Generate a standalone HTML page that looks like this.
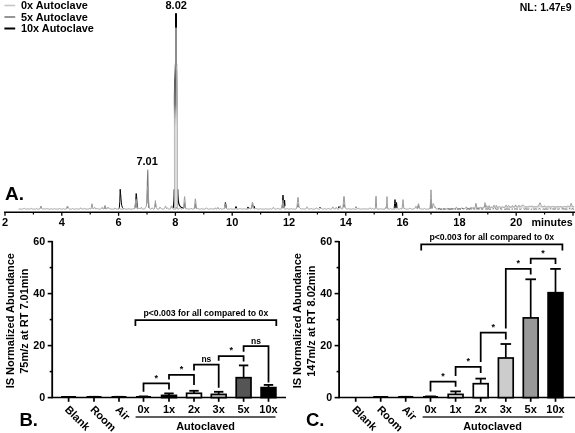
<!DOCTYPE html>
<html><head><meta charset="utf-8"><title>Figure</title>
<style>html,body{margin:0;padding:0;background:#fff}svg{display:block;will-change:transform;transform:translateZ(0)}text{font-family:"Liberation Sans",sans-serif;font-weight:bold;fill:#000}</style></head>
<body>
<svg width="575" height="433" viewBox="0 0 575 433">
<rect width="575" height="433" fill="#fff"/>
<line x1="4.4" y1="5.5" x2="15.2" y2="5.5" stroke="#c6c6c6" stroke-width="1.6"/>
<text x="21" y="9.3" font-size="10.9">0x Autoclave</text>
<line x1="4.4" y1="17.0" x2="15.2" y2="17.0" stroke="#7a7a7a" stroke-width="1.6"/>
<text x="21" y="20.8" font-size="10.9">5x Autoclave</text>
<line x1="4.4" y1="28.5" x2="15.2" y2="28.5" stroke="#000" stroke-width="2.0"/>
<text x="21" y="32.3" font-size="10.9">10x Autoclave</text>
<text x="571.5" y="11.0" font-size="10.5" text-anchor="end">NL: 1.47<tspan font-size="7.6">E</tspan>9</text>
<text x="176.2" y="9.3" font-size="11" text-anchor="middle">8.02</text>
<text x="147.1" y="165.0" font-size="11" text-anchor="middle">7.01</text>
<text x="5" y="200" font-size="19">A.</text>
<path d="M119.0,208.4 L119.4,207.2 L119.8,201.4 L120.2,189.3 L120.6,193.7 L121.0,198.7 L121.4,202.9 L121.8,205.6 L122.2,207.0 L122.6,207.7 L123.0,208.2 M135.4,206.4 L135.8,199.0 L136.2,193.5 L136.6,196.6 L137.0,202.7 L137.4,207.0 M225.0,206.2 L225.4,202.5 L225.8,204.1 L226.2,207.8 M235.4,208.0 L235.8,206.6 L236.2,206.6 L236.6,208.0 M247.4,208.1 L247.8,207.1 L248.2,207.1 L248.6,208.1 M253.4,207.9 L253.8,206.2 L254.2,206.2 L254.6,207.9 M282.2,207.5 L282.6,201.0 L283.0,195.1 L283.4,201.0 L283.8,207.4 L284.2,205.6 L284.6,200.1 L285.0,205.7 M319.8,207.5 L320.2,207.5 M338.6,207.6 L339.0,206.5 L339.4,207.6 M355.8,207.2 L356.2,207.2 M394.2,208.0 L394.6,203.6 L395.0,199.6 L395.4,203.6 L395.8,207.7 L396.2,205.0 L396.6,202.5 L397.0,207.6" fill="none" stroke="#000" stroke-width="1.0" stroke-linejoin="round" stroke-linecap="round"/>
<path d="M40.6,207.7 L41.0,206.9 L41.4,207.7 M67.0,208.0 L67.4,207.0 L67.8,207.4 M104.2,208.4 L104.6,207.0 L105.0,206.1 L105.4,207.0 L105.8,208.4 M135.0,207.9 L135.4,204.1 L135.8,199.0 L136.2,199.0 L136.6,204.1 L137.0,207.9 M147.0,203.1 L147.4,180.5 L147.8,170.1 L148.2,193.8 L148.6,207.4 M155.0,206.2 L155.4,204.1 L155.8,206.2 M183.8,208.0 L184.2,205.2 L184.6,203.1 L185.0,205.2 L185.4,208.0 M194.6,208.2 L195.0,205.9 L195.4,204.1 L195.8,205.9 L196.2,208.2 M251.4,208.2 L251.8,206.7 L252.2,205.1 L252.6,204.7 L253.0,205.9 L253.4,207.5 M282.2,207.6 L282.6,204.9 L283.0,203.1 L283.4,204.9 L283.8,207.6 M297.4,206.8 L297.8,204.5 L298.2,204.5 L298.6,206.8 M343.4,206.8 L343.8,204.5 L344.2,204.5 L344.6,206.8 M417.8,207.9 L418.2,206.2 L418.6,205.7 L419.0,207.1 M430.2,208.3 L430.6,205.1 L431.0,202.1 L431.4,205.1 L431.8,208.3 M484.6,206.5 L485.0,205.4 L485.4,206.4" fill="none" stroke="#7a7a7a" stroke-width="1.1" stroke-linejoin="round" stroke-linecap="round"/>
<defs><linearGradient id="pk" x1="0" y1="0" x2="0" y2="1"><stop offset="0" stop-color="#8c8c8c"/><stop offset="0.3" stop-color="#5a5a5a"/><stop offset="0.65" stop-color="#7a7a7a"/><stop offset="1" stop-color="#b4b4b4" stop-opacity="0"/></linearGradient></defs>
<path d="M173.2,207.6 Q174.1,204 174.25,189.5 M177.75,189.5 Q177.9,203 179.5,205.5 T183.5,208" fill="none" stroke="#000" stroke-width="1.2" stroke-linecap="round"/>
<path d="M175.3,64 L176.9,64 L177.3,80 L177.5,100 L177.5,207.8 L174.5,207.8 L174.4,100 L174.6,80 Z" fill="#dcdcdc" stroke="#a8a8a8" stroke-width="0.75"/>
<path d="M175,62 L176.6,62 L176.2,80 L175.8,128 L174.0,128 L173.8,100 L174.1,80 Z" fill="url(#pk)"/>
<defs><linearGradient id="pk2" x1="0" y1="0" x2="0" y2="1"><stop offset="0" stop-color="#a0a0a0"/><stop offset="0.6" stop-color="#a8a8a8"/><stop offset="1" stop-color="#c8c8c8" stop-opacity="0"/></linearGradient></defs>
<path d="M176,70 L177.1,70 L177.6,100 L177.7,128 L176,128 Z" fill="url(#pk2)"/>
<rect x="175" y="27.5" width="2" height="38" fill="#8c8c8c"/>
<rect x="175" y="13.2" width="2" height="14.5" fill="#000"/>
<path d="M19.0,209.1 L19.4,209.1 L19.8,209.1 L20.2,209.1 L20.6,209.1 L21.0,209.1 L21.4,209.1 L21.8,209.1 L22.2,209.1 L22.6,209.1 L23.0,208.9 L23.4,208.6 L23.8,208.3 L24.2,208.3 L24.6,208.6 L25.0,208.9 L25.4,209.1 L25.8,209.1 L26.2,209.1 L26.6,209.1 L27.0,209.0 L27.4,208.7 L27.8,208.8 L28.2,209.1 L28.6,209.1 L29.0,209.1 L29.4,209.1 L29.8,209.1 L30.2,209.1 L30.6,209.0 L31.0,208.6 L31.4,208.2 L31.8,208.4 L32.2,208.9 L32.6,209.1 L33.0,209.1 L33.4,209.1 L33.8,209.1 L34.2,209.1 L34.6,209.1 L35.0,209.1 L35.4,209.1 L35.8,209.1 L36.2,208.9 L36.6,208.5 L37.0,208.8 L37.4,209.1 L37.8,209.1 L38.2,209.1 L38.6,209.1 L39.0,209.1 L39.4,209.1 L39.8,208.9 L40.2,208.2 L40.6,206.9 L41.0,206.0 L41.4,207.2 L41.8,208.6 L42.2,209.0 L42.6,209.1 L43.0,209.1 L43.4,209.0 L43.8,208.9 L44.2,208.7 L44.6,208.8 L45.0,208.9 L45.4,209.0 L45.8,209.1 L46.2,208.9 L46.6,208.6 L47.0,208.5 L47.4,208.7 L47.8,209.0 L48.2,209.1 L48.6,209.1 L49.0,209.1 L49.4,209.1 L49.8,209.1 L50.2,209.0 L50.6,208.9 L51.0,208.7 L51.4,208.8 L51.8,209.0 L52.2,209.1 L52.6,209.1 L53.0,209.1 L53.4,209.1 L53.8,209.1 L54.2,208.8 L54.6,208.5 L55.0,208.9 L55.4,209.1 L55.8,209.1 L56.2,209.1 L56.6,209.1 L57.0,209.1 L57.4,209.1 L57.8,209.1 L58.2,209.1 L58.6,209.1 L59.0,208.8 L59.4,208.3 L59.8,208.3 L60.2,208.8 L60.6,209.1 L61.0,209.1 L61.4,209.1 L61.8,209.1 L62.2,209.1 L62.6,209.1 L63.0,209.0 L63.4,208.7 L63.8,208.7 L64.2,209.0 L64.6,209.1 L65.0,209.1 L65.4,209.1 L65.8,209.1 L66.2,209.1 L66.6,208.7 L67.0,207.5 L67.4,206.0 L67.8,206.5 L68.2,207.8 L68.6,208.4 L69.0,208.9 L69.4,209.1 L69.8,209.1 L70.2,209.1 L70.6,209.1 L71.0,209.1 L71.4,209.1 L71.8,209.0 L72.2,208.7 L72.6,208.5 L73.0,208.8 L73.4,209.0 L73.8,209.1 L74.2,209.1 L74.6,209.1 L75.0,209.1 L75.4,209.1 L75.8,209.0 L76.2,208.8 L76.6,208.7 L77.0,208.8 L77.4,209.0 L77.8,209.1 L78.2,209.1 L78.6,209.1 L79.0,209.1 L79.4,209.1 L79.8,209.0 L80.2,208.5 L80.6,207.9 L81.0,207.9 L81.4,208.5 L81.8,208.9 L82.2,209.1 L82.6,209.1 L83.0,209.1 L83.4,209.1 L83.8,208.8 L84.2,208.3 L84.6,208.3 L85.0,208.8 L85.4,209.0 L85.8,209.1 L86.2,209.1 L86.6,209.1 L87.0,209.1 L87.4,209.1 L87.8,209.1 L88.2,209.1 L88.6,209.1 L89.0,208.9 L89.4,208.4 L89.8,208.3 L90.2,208.8 L90.6,209.1 L91.0,208.9 L91.4,207.4 L91.8,203.9 L92.2,203.9 L92.6,207.4 L93.0,208.9 L93.4,208.9 L93.8,208.4 L94.2,207.6 L94.6,207.3 L95.0,208.0 L95.4,208.7 L95.8,209.0 L96.2,208.9 L96.6,208.5 L97.0,208.2 L97.4,208.6 L97.8,209.0 L98.2,209.1 L98.6,209.1 L99.0,209.1 L99.4,209.1 L99.8,209.1 L100.2,209.1 L100.6,209.1 L101.0,209.0 L101.4,208.6 L101.8,207.6 L102.2,207.4 L102.6,208.4 L103.0,209.0 L103.4,209.1 L103.8,209.0 L104.2,208.5 L104.6,206.8 L105.0,205.5 L105.4,206.8 L105.8,208.3 L106.2,208.6 L106.6,208.8 L107.0,208.9 L107.4,208.2 L107.8,207.3 L108.2,207.3 L108.6,208.2 L109.0,208.8 L109.4,208.7 L109.8,208.4 L110.2,208.7 L110.6,209.0 L111.0,209.1 L111.4,209.1 L111.8,209.1 L112.2,209.1 L112.6,209.1 L113.0,209.1 L113.4,209.1 L113.8,209.1 L114.2,209.1 L114.6,208.8 L115.0,207.9 L115.4,208.3 L115.8,209.0 L116.2,209.1 L116.6,209.1 L117.0,209.1 L117.4,209.1 L117.8,209.1 L118.2,209.1 L118.6,209.0 L119.0,208.7 L119.4,208.4 L119.8,208.5 L120.2,208.9 L120.6,209.1 L121.0,209.1 L121.4,209.1 L121.8,209.1 L122.2,209.1 L122.6,209.1 L123.0,209.1 L123.4,209.1 L123.8,208.8 L124.2,208.4 L124.6,208.6 L125.0,209.0 L125.4,209.1 L125.8,209.1 L126.2,209.1 L126.6,209.1 L127.0,209.1 L127.4,209.1 L127.8,209.1 L128.2,208.9 L128.6,208.7 L129.0,208.6 L129.4,208.9 L129.8,209.1 L130.2,209.1 L130.6,209.1 L131.0,209.1 L131.4,209.1 L131.8,209.1 L132.2,209.1 L132.6,209.0 L133.0,208.9 L133.4,208.7 L133.8,208.7 L134.2,208.8 L134.6,208.7 L135.0,207.5 L135.4,203.9 L135.8,199.8 L136.2,199.8 L136.6,203.9 L137.0,207.5 L137.4,208.8 L137.8,209.0 L138.2,208.7 L138.6,208.1 L139.0,207.8 L139.4,208.2 L139.8,208.8 L140.2,209.0 L140.6,208.6 L141.0,207.8 L141.4,207.3 L141.8,207.9 L142.2,208.7 L142.6,209.0 L143.0,209.1 L143.4,209.1 L143.8,209.1 L144.2,209.1 L144.6,208.9 L145.0,208.4 L145.4,207.6 L145.8,207.1 L146.2,206.7 L146.6,203.9 L147.0,196.9 L147.4,188.6 L147.8,186.2 L148.2,191.9 L148.6,199.9 L149.0,205.3 L149.4,207.8 L149.8,208.7 L150.2,209.0 L150.6,209.1 L151.0,209.1 L151.4,208.9 L151.8,208.3 L152.2,207.8 L152.6,208.3 L153.0,208.9 L153.4,209.1 L153.8,209.1 L154.2,209.0 L154.6,208.2 L155.0,204.2 L155.4,200.6 L155.8,204.0 L156.2,207.2 L156.6,208.0 L157.0,208.9 L157.4,209.1 L157.8,209.1 L158.2,209.1 L158.6,209.1 L159.0,209.0 L159.4,208.5 L159.8,207.3 L160.2,207.3 L160.6,208.2 L161.0,208.5 L161.4,208.6 L161.8,208.8 L162.2,209.0 L162.6,209.1 L163.0,209.1 L163.4,209.1 L163.8,209.0 L164.2,208.7 L164.6,208.2 L165.0,207.5 L165.4,206.2 L165.8,206.4 L166.2,207.9 L166.6,208.7 L167.0,208.2 L167.4,207.8 L167.8,208.2 L168.2,208.8 L168.6,209.1 L169.0,209.1 L169.4,209.1 L169.8,209.1 L170.2,209.0 L170.6,208.5 L171.0,207.0 L171.4,205.8 L171.8,206.8 L172.2,208.0 L172.6,208.3 L173.0,208.7 L173.4,209.0 L173.8,209.1 L174.2,209.1 L174.6,209.1 L175.0,209.1 L175.4,209.1 L175.8,208.8 L176.2,207.9 L176.6,207.3 L177.0,208.1 L177.4,208.9 L177.8,209.1 L178.2,209.1 L178.6,209.0 L179.0,208.8 L179.4,208.3 L179.8,207.8 L180.2,207.9 L180.6,208.5 L181.0,208.9 L181.4,209.1 L181.8,209.1 L182.2,208.8 L182.6,208.5 L183.0,208.7 L183.4,208.5 L183.8,206.0 L184.2,200.3 L184.6,196.6 L185.0,200.3 L185.4,206.0 L185.8,208.6 L186.2,209.0 L186.6,208.8 L187.0,208.7 L187.4,208.8 L187.8,209.0 L188.2,209.1 L188.6,209.1 L189.0,209.1 L189.4,209.1 L189.8,209.1 L190.2,209.1 L190.6,208.8 L191.0,208.3 L191.4,208.4 L191.8,208.9 L192.2,209.1 L192.6,209.1 L193.0,209.0 L193.4,208.8 L193.8,208.6 L194.2,208.3 L194.6,206.5 L195.0,201.9 L195.4,198.8 L195.8,201.9 L196.2,206.6 L196.6,208.6 L197.0,209.0 L197.4,208.7 L197.8,208.5 L198.2,208.6 L198.6,208.9 L199.0,209.1 L199.4,209.1 L199.8,209.1 L200.2,209.1 L200.6,209.1 L201.0,209.0 L201.4,208.7 L201.8,208.6 L202.2,208.8 L202.6,209.0 L203.0,209.1 L203.4,209.1 L203.8,209.1 L204.2,209.1 L204.6,209.1 L205.0,209.1 L205.4,208.9 L205.8,208.4 L206.2,207.9 L206.6,207.9 L207.0,208.3 L207.4,208.8 L207.8,209.0 L208.2,209.1 L208.6,209.1 L209.0,209.1 L209.4,209.1 L209.8,209.1 L210.2,209.0 L210.6,208.8 L211.0,208.5 L211.4,208.5 L211.8,208.8 L212.2,209.0 L212.6,209.1 L213.0,209.1 L213.4,209.1 L213.8,209.1 L214.2,209.1 L214.6,208.8 L215.0,208.0 L215.4,207.9 L215.8,208.6 L216.2,209.0 L216.6,209.1 L217.0,208.9 L217.4,208.0 L217.8,207.3 L218.2,208.0 L218.6,208.9 L219.0,209.1 L219.4,209.1 L219.8,209.0 L220.2,208.7 L220.6,208.5 L221.0,208.7 L221.4,209.0 L221.8,209.1 L222.2,209.1 L222.6,209.0 L223.0,208.7 L223.4,208.7 L223.8,209.0 L224.2,209.0 L224.6,208.1 L225.0,205.8 L225.4,203.6 L225.8,204.6 L226.2,207.3 L226.6,208.7 L227.0,209.1 L227.4,209.1 L227.8,209.1 L228.2,209.1 L228.6,209.1 L229.0,209.1 L229.4,209.1 L229.8,209.1 L230.2,209.0 L230.6,208.6 L231.0,208.8 L231.4,209.1 L231.8,209.1 L232.2,209.1 L232.6,209.1 L233.0,209.1 L233.4,209.1 L233.8,209.1 L234.2,209.1 L234.6,209.1 L235.0,209.0 L235.4,208.8 L235.8,208.6 L236.2,208.8 L236.6,209.0 L237.0,209.1 L237.4,209.1 L237.8,209.1 L238.2,209.1 L238.6,209.1 L239.0,209.0 L239.4,208.8 L239.8,208.4 L240.2,208.2 L240.6,208.6 L241.0,209.0 L241.4,209.1 L241.8,209.1 L242.2,209.1 L242.6,209.1 L243.0,209.0 L243.4,208.8 L243.8,208.7 L244.2,208.8 L244.6,208.9 L245.0,209.1 L245.4,209.1 L245.8,209.1 L246.2,209.1 L246.6,209.1 L247.0,209.1 L247.4,209.1 L247.8,209.1 L248.2,209.1 L248.6,208.8 L249.0,208.2 L249.4,207.8 L249.8,208.4 L250.2,208.9 L250.6,209.0 L251.0,208.8 L251.4,207.8 L251.8,205.6 L252.2,203.0 L252.6,202.1 L253.0,204.2 L253.4,206.8 L253.8,208.4 L254.2,208.9 L254.6,209.1 L255.0,209.0 L255.4,208.7 L255.8,208.2 L256.2,208.4 L256.6,208.9 L257.0,209.1 L257.4,209.1 L257.8,209.1 L258.2,209.1 L258.6,209.1 L259.0,209.1 L259.4,209.1 L259.8,209.0 L260.2,208.7 L260.6,208.7 L261.0,209.0 L261.4,209.1 L261.8,209.1 L262.2,209.1 L262.6,209.1 L263.0,209.1 L263.4,209.1 L263.8,209.1 L264.2,209.1 L264.6,209.1 L265.0,209.0 L265.4,208.7 L265.8,208.6 L266.2,208.9 L266.6,209.1 L267.0,209.1 L267.4,209.1 L267.8,209.1 L268.2,209.1 L268.6,209.1 L269.0,209.1 L269.4,209.0 L269.8,208.8 L270.2,208.7 L270.6,208.8 L271.0,209.0 L271.4,209.1 L271.8,209.1 L272.2,208.9 L272.6,208.5 L273.0,207.7 L273.4,207.3 L273.8,207.8 L274.2,208.5 L274.6,209.0 L275.0,209.1 L275.4,209.1 L275.8,209.1 L276.2,209.1 L276.6,209.1 L277.0,209.0 L277.4,208.6 L277.8,208.2 L278.2,208.4 L278.6,208.9 L279.0,209.1 L279.4,209.1 L279.8,209.1 L280.2,209.1 L280.6,209.1 L281.0,209.1 L281.4,209.1 L281.8,208.7 L282.2,206.9 L282.6,202.9 L283.0,200.2 L283.4,202.7 L283.8,206.8 L284.2,208.7 L284.6,209.1 L285.0,209.1 L285.4,209.1 L285.8,209.1 L286.2,209.0 L286.6,208.7 L287.0,208.4 L287.4,208.6 L287.8,209.0 L288.2,209.1 L288.6,209.1 L289.0,209.1 L289.4,209.1 L289.8,209.1 L290.2,209.1 L290.6,208.9 L291.0,208.7 L291.4,208.6 L291.8,208.8 L292.2,209.0 L292.6,209.1 L293.0,209.1 L293.4,209.1 L293.8,209.1 L294.2,209.1 L294.6,209.1 L295.0,209.1 L295.4,209.1 L295.8,209.1 L296.2,208.9 L296.6,208.1 L297.0,206.5 L297.4,202.5 L297.8,197.5 L298.2,197.5 L298.6,202.5 L299.0,206.7 L299.4,207.8 L299.8,207.8 L300.2,208.2 L300.6,208.8 L301.0,209.0 L301.4,209.1 L301.8,209.1 L302.2,208.9 L302.6,208.6 L303.0,208.7 L303.4,209.0 L303.8,209.1 L304.2,209.1 L304.6,209.1 L305.0,209.1 L305.4,209.1 L305.8,209.0 L306.2,208.6 L306.6,207.6 L307.0,206.8 L307.4,207.3 L307.8,208.3 L308.2,208.9 L308.6,209.1 L309.0,209.1 L309.4,209.1 L309.8,209.1 L310.2,209.0 L310.6,208.7 L311.0,208.5 L311.4,208.6 L311.8,208.9 L312.2,209.1 L312.6,209.1 L313.0,209.1 L313.4,209.1 L313.8,209.1 L314.2,209.1 L314.6,209.1 L315.0,209.1 L315.4,208.9 L315.8,208.5 L316.2,207.9 L316.6,207.9 L317.0,208.4 L317.4,208.9 L317.8,209.1 L318.2,209.1 L318.6,209.1 L319.0,209.1 L319.4,209.1 L319.8,209.0 L320.2,208.8 L320.6,208.4 L321.0,208.2 L321.4,208.4 L321.8,208.7 L322.2,209.0 L322.6,209.1 L323.0,209.1 L323.4,209.1 L323.8,209.0 L324.2,208.7 L324.6,208.6 L325.0,209.0 L325.4,209.1 L325.8,209.1 L326.2,209.1 L326.6,209.1 L327.0,209.1 L327.4,209.0 L327.8,208.6 L328.2,208.2 L328.6,208.6 L329.0,209.0 L329.4,209.1 L329.8,209.1 L330.2,209.1 L330.6,209.1 L331.0,209.1 L331.4,209.0 L331.8,208.8 L332.2,208.2 L332.6,207.2 L333.0,206.8 L333.4,207.6 L333.8,208.6 L334.2,209.0 L334.6,209.1 L335.0,209.1 L335.4,208.9 L335.8,208.2 L336.2,207.3 L336.6,207.9 L337.0,208.8 L337.4,209.1 L337.8,209.1 L338.2,209.1 L338.6,209.1 L339.0,208.8 L339.4,207.7 L339.8,206.2 L340.2,205.8 L340.6,207.0 L341.0,208.3 L341.4,208.9 L341.8,209.1 L342.2,209.1 L342.6,208.7 L343.0,206.9 L343.4,202.1 L343.8,196.5 L344.2,196.5 L344.6,202.0 L345.0,206.7 L345.4,208.2 L345.8,208.4 L346.2,208.6 L346.6,208.9 L347.0,209.1 L347.4,209.1 L347.8,209.0 L348.2,208.7 L348.6,208.5 L349.0,208.7 L349.4,209.0 L349.8,209.1 L350.2,209.1 L350.6,209.1 L351.0,209.1 L351.4,209.1 L351.8,209.1 L352.2,208.9 L352.6,208.8 L353.0,208.7 L353.4,208.8 L353.8,209.0 L354.2,209.1 L354.6,209.1 L355.0,209.1 L355.4,209.1 L355.8,209.1 L356.2,209.1 L356.6,209.1 L357.0,209.1 L357.4,209.0 L357.8,208.5 L358.2,207.9 L358.6,208.1 L359.0,208.7 L359.4,209.1 L359.8,209.1 L360.2,209.1 L360.6,209.1 L361.0,209.1 L361.4,209.1 L361.8,209.1 L362.2,209.0 L362.6,208.8 L363.0,208.7 L363.4,208.8 L363.8,209.0 L364.2,209.1 L364.6,209.1 L365.0,209.1 L365.4,208.8 L365.8,208.5 L366.2,208.9 L366.6,209.1 L367.0,209.1 L367.4,209.1 L367.8,209.1 L368.2,209.1 L368.6,209.0 L369.0,208.8 L369.4,208.3 L369.8,207.8 L370.2,208.0 L370.6,208.6 L371.0,209.0 L371.4,209.1 L371.8,208.9 L372.2,208.6 L372.6,208.4 L373.0,208.7 L373.4,209.0 L373.8,209.1 L374.2,209.1 L374.6,209.1 L375.0,209.1 L375.4,207.9 L375.8,196.7 L376.2,196.2 L376.6,207.3 L377.0,209.0 L377.4,209.1 L377.8,209.1 L378.2,209.1 L378.6,209.1 L379.0,209.1 L379.4,209.1 L379.8,209.0 L380.2,208.7 L380.6,208.8 L381.0,209.1 L381.4,209.1 L381.8,209.1 L382.2,209.1 L382.6,209.1 L383.0,209.1 L383.4,209.1 L383.8,209.1 L384.2,209.1 L384.6,209.1 L385.0,209.0 L385.4,208.1 L385.8,207.3 L386.2,208.3 L386.6,205.1 L387.0,196.6 L387.4,205.2 L387.8,209.0 L388.2,209.1 L388.6,209.1 L389.0,209.1 L389.4,209.1 L389.8,208.9 L390.2,208.6 L390.6,208.6 L391.0,208.9 L391.4,209.1 L391.8,209.1 L392.2,209.1 L392.6,209.1 L393.0,209.1 L393.4,209.1 L393.8,209.1 L394.2,209.1 L394.6,208.9 L395.0,208.6 L395.4,208.4 L395.8,208.5 L396.2,208.8 L396.6,209.0 L397.0,209.0 L397.4,208.8 L397.8,208.5 L398.2,208.8 L398.6,209.0 L399.0,209.1 L399.4,209.1 L399.8,209.1 L400.2,208.9 L400.6,208.7 L401.0,208.7 L401.4,209.0 L401.8,209.0 L402.2,208.0 L402.6,203.6 L403.0,199.6 L403.4,203.6 L403.8,208.0 L404.2,208.9 L404.6,208.5 L405.0,208.5 L405.4,209.0 L405.8,209.1 L406.2,209.1 L406.6,209.1 L407.0,209.1 L407.4,209.1 L407.8,209.1 L408.2,209.1 L408.6,209.1 L409.0,208.9 L409.4,208.6 L409.8,208.3 L410.2,208.3 L410.6,208.6 L411.0,208.9 L411.4,209.1 L411.8,209.1 L412.2,209.1 L412.6,209.1 L413.0,209.1 L413.4,209.0 L413.8,208.7 L414.2,208.4 L414.6,208.4 L415.0,208.4 L415.4,207.6 L415.8,206.3 L416.2,206.4 L416.6,207.7 L417.0,208.7 L417.4,208.7 L417.8,207.2 L418.2,204.4 L418.6,203.7 L419.0,206.3 L419.4,208.5 L419.8,209.0 L420.2,209.0 L420.6,208.6 L421.0,208.8 L421.4,209.1 L421.8,209.1 L422.2,209.1 L422.6,209.1 L423.0,209.1 L423.4,209.0 L423.8,208.8 L424.2,208.5 L424.6,208.6 L425.0,208.9 L425.4,209.1 L425.8,209.1 L426.2,209.1 L426.6,209.1 L427.0,209.1 L427.4,209.1 L427.8,209.1 L428.2,209.1 L428.6,208.9 L429.0,208.5 L429.4,208.7 L429.8,209.0 L430.2,207.5 L430.6,198.8 L431.0,189.8 L431.4,198.8 L431.8,207.4 L432.2,208.3 L432.6,205.9 L433.0,203.6 L433.4,203.7 L433.8,204.7 L434.2,206.6 L434.6,207.5 L435.0,206.9 L435.4,206.9 L435.8,208.1 L436.2,208.9 L436.6,209.1 L437.0,209.1 L437.4,209.1 L437.8,209.1 L438.2,209.0 L438.6,208.7 L439.0,208.3 L439.4,208.2 L439.8,208.6 L440.2,208.9 L440.6,209.1 L441.0,209.1 L441.4,209.1 L441.8,209.1 L442.2,209.1 L442.6,209.1 L443.0,209.1 L443.4,209.1 L443.8,209.0 L444.2,208.6 L444.6,208.7 L445.0,209.0 L445.4,209.1 L445.8,209.1 L446.2,209.1 L446.6,209.0 L447.0,208.8 L447.4,208.2 L447.8,208.4 L448.2,208.9 L448.6,209.0 L449.0,209.0 L449.4,209.0 L449.8,208.9 L450.2,208.9 L450.6,208.7 L451.0,208.4 L451.4,208.4 L451.8,208.6 L452.2,208.8 L452.6,208.9 L453.0,208.9 L453.4,208.8 L453.8,208.8 L454.2,208.8 L454.6,208.8 L455.0,208.8 L455.4,208.7 L455.8,208.3 L456.2,207.3 L456.6,207.3 L457.0,208.2 L457.4,208.7 L457.8,208.7 L458.2,208.7 L458.6,208.7 L459.0,208.7 L459.4,208.7 L459.8,208.7 L460.2,208.6 L460.6,208.6 L461.0,208.5 L461.4,208.2 L461.8,207.9 L462.2,208.1 L462.6,208.4 L463.0,208.5 L463.4,208.5 L463.8,208.5 L464.2,208.5 L464.6,208.5 L465.0,208.5 L465.4,208.3 L465.8,207.6 L466.2,206.8 L466.6,207.1 L467.0,208.0 L467.4,208.4 L467.8,208.4 L468.2,208.4 L468.6,208.4 L469.0,208.4 L469.4,208.4 L469.8,208.3 L470.2,208.2 L470.6,207.9 L471.0,207.7 L471.4,207.7 L471.8,208.0 L472.2,208.2 L472.6,208.2 L473.0,208.3 L473.4,208.2 L473.8,208.2 L474.2,208.2 L474.6,208.0 L475.0,207.6 L475.4,206.3 L475.8,203.3 L476.2,203.7 L476.6,207.0 L477.0,208.0 L477.4,208.1 L477.8,208.1 L478.2,208.1 L478.6,208.1 L479.0,208.1 L479.4,208.0 L479.8,207.9 L480.2,207.7 L480.6,207.3 L481.0,207.3 L481.4,207.6 L481.8,207.9 L482.2,208.0 L482.6,207.9 L483.0,207.7 L483.4,207.4 L483.8,207.5 L484.2,207.2 L484.6,204.9 L485.0,202.7 L485.4,204.9 L485.8,207.2 L486.2,207.0 L486.6,205.6 L487.0,206.1 L487.4,207.5 L487.8,207.8 L488.2,207.7 L488.6,207.0 L489.0,205.6 L489.4,205.9 L489.8,207.2 L490.2,207.7 L490.6,207.7 L491.0,207.7 L491.4,207.2 L491.8,206.8 L492.2,207.3 L492.6,207.6 L493.0,207.4 L493.4,206.5 L493.8,205.3 L494.2,205.3 L494.6,206.5 L495.0,207.3 L495.4,207.4 L495.8,206.6 L496.2,205.3 L496.6,205.7 L497.0,207.0 L497.4,207.5 L497.8,207.5 L498.2,207.4 L498.6,207.2 L499.0,206.8 L499.4,206.7 L499.8,206.9 L500.2,207.2 L500.6,207.4 L501.0,207.4 L501.4,207.4 L501.8,207.1 L502.2,206.9 L502.6,207.0 L503.0,207.3 L503.4,207.3 L503.8,207.3 L504.2,207.3 L504.6,207.3 L505.0,207.0 L505.4,206.3 L505.8,205.3 L506.2,205.0 L506.6,205.8 L507.0,206.7 L507.4,207.0 L507.8,206.9 L508.2,206.3 L508.6,205.6 L509.0,205.6 L509.4,206.2 L509.8,206.8 L510.2,207.1 L510.6,207.1 L511.0,207.1 L511.4,207.1 L511.8,206.6 L512.2,205.6 L512.6,205.8 L513.0,206.8 L513.4,207.0 L513.8,207.0 L514.2,207.0 L514.6,206.9 L515.0,206.3 L515.4,205.0 L515.8,204.9 L516.2,206.2 L516.6,206.9 L517.0,206.9 L517.4,206.9 L517.8,206.9 L518.2,206.5 L518.6,205.7 L519.0,205.2 L519.4,206.0 L519.8,206.7 L520.2,206.8 L520.6,206.4 L521.0,205.8 L521.4,205.7 L521.8,205.9 L522.2,205.6 L522.6,205.0 L523.0,204.7 L523.4,205.0 L523.8,205.6 L524.2,205.9 L524.6,206.3 L525.0,206.8 L525.4,206.9 L525.8,206.9 L526.2,206.9 L526.6,206.9 L527.0,206.9 L527.4,206.9 L527.8,206.9 L528.2,206.9 L528.6,206.7 L529.0,206.4 L529.4,206.2 L529.8,206.2 L530.2,206.5 L530.6,206.7 L531.0,206.9 L531.4,206.7 L531.8,206.1 L532.2,205.7 L532.6,206.4 L533.0,206.8 L533.4,206.9 L533.8,206.9 L534.2,206.9 L534.6,206.9 L535.0,206.9 L535.4,206.9 L535.8,206.9 L536.2,206.9 L536.6,206.8 L537.0,206.4 L537.4,206.1 L537.8,206.4 L538.2,206.4 L538.6,206.0 L539.0,205.1 L539.4,203.9 L539.8,202.8 L540.2,202.9 L540.6,204.1 L541.0,205.2 L541.4,206.0 L541.8,206.5 L542.2,206.7 L542.6,206.8 L543.0,206.9 L543.4,206.8 L543.8,206.5 L544.2,205.8 L544.6,205.9 L545.0,206.5 L545.4,206.9 L545.8,206.9 L546.2,206.9 L546.6,206.9 L547.0,206.9 L547.4,206.8 L547.8,206.6 L548.2,206.3 L548.6,206.3 L549.0,206.7 L549.4,206.9 L549.8,206.9 L550.2,206.9 L550.6,206.9 L551.0,206.9 L551.4,206.9 L551.8,206.9 L552.2,206.8 L552.6,206.5 L553.0,206.4 L553.4,206.7 L553.8,206.9 L554.2,206.9 L554.6,206.9 L555.0,206.9 L555.4,206.9 L555.8,206.9 L556.2,206.9 L556.6,206.9 L557.0,206.7 L557.4,206.3 L557.8,206.1 L558.2,206.5 L558.6,206.8 L559.0,206.9 L559.4,206.8 L559.8,206.5 L560.2,206.4 L560.6,206.6 L561.0,206.8 L561.4,206.9 L561.8,206.9 L562.2,206.9 L562.6,206.9 L563.0,206.9 L563.4,206.9 L563.8,206.9 L564.2,206.8 L564.6,206.5 L565.0,206.4 L565.4,206.6 L565.8,206.8 L566.2,206.9 L566.6,206.8 L567.0,206.6 L567.4,206.2 L567.8,205.8 L568.2,205.9 L568.6,206.4 L569.0,206.7 L569.4,206.9 L569.8,206.8 L570.2,206.1 L570.6,204.6 L571.0,203.3 L571.4,203.7 L571.8,205.1 L572.2,206.1 L572.6,206.6 L573.0,206.8 L573.4,206.9 L573.8,206.9" fill="none" stroke="#9c9c9c" stroke-width="1.0" stroke-linejoin="round" stroke-linecap="round"/>
<path d="M470.0,207.8 L470.8,207.9 L471.6,207.6 L472.4,208.0 L473.2,207.3 L474.0,207.8 L474.8,208.1 L475.6,207.9 L476.4,207.6 L477.2,207.9 L478.0,207.8 L478.8,208.0 L479.6,207.5 L480.4,207.8 L481.2,207.9 L482.0,207.3 L482.8,207.8 L483.6,207.9 L484.4,207.5 L485.2,207.8 L486.0,207.5 L486.8,207.8 L487.6,207.8 L488.4,207.5 L489.2,207.5 L490.0,207.4 L490.8,207.5 L491.6,207.4 L492.4,207.0 L493.2,207.1 L494.0,207.6 L494.8,207.5 L495.6,207.7 L496.4,207.4 L497.2,207.2 L498.0,207.3 L498.8,206.9 L499.6,206.8 L500.4,206.9 L501.2,207.5 L502.0,207.1 L502.8,207.5 L503.6,207.3 L504.4,207.3 L505.2,207.0 L506.0,207.3 L506.8,207.2 L507.6,207.2 L508.4,207.0 L509.2,207.3 L510.0,207.4 L510.8,207.3 L511.6,207.3 L512.4,207.1 L513.2,207.0 L514.0,207.3 L514.8,206.8 L515.6,206.4 L516.4,207.2 L517.2,207.2 L518.0,207.1 L518.8,207.1 L519.6,207.1 L520.4,206.9 L521.2,207.0 L522.0,207.1 L522.8,207.1 L523.6,207.0 L524.4,207.2 L525.2,207.0 L526.0,207.1 L526.8,207.0 L527.6,206.9 L528.4,207.0 L529.2,207.0 L530.0,206.7 L530.8,206.4 L531.6,206.8 L532.4,207.1 L533.2,207.0 L534.0,206.7 L534.8,206.8 L535.6,206.7 L536.4,206.9 L537.2,207.1 L538.0,206.8 L538.8,207.1 L539.6,206.7 L540.4,206.8 L541.2,206.7 L542.0,207.1 L542.8,206.8 L543.6,206.7 L544.4,207.0 L545.2,206.4 L546.0,207.2 L546.8,207.2 L547.6,206.7 L548.4,207.2 L549.2,207.1 L550.0,207.0 L550.8,206.6 L551.6,207.0 L552.4,206.4 L553.2,207.1 L554.0,207.1 L554.8,206.7 L555.6,207.1 L556.4,206.9 L557.2,207.1 L558.0,207.1 L558.8,207.2 L559.6,206.8 L560.4,207.1 L561.2,207.2 L562.0,206.9 L562.8,207.1 L563.6,207.2 L564.4,206.5 L565.2,206.9 L566.0,206.8 L566.8,207.0 L567.6,207.2 L568.4,206.8 L569.2,207.0 L570.0,206.6 L570.8,207.1 L571.6,206.6 L572.4,207.1 L573.2,206.7 L574.0,206.5" fill="none" stroke="#b4b4b4" stroke-width="0.9"/>
<path d="M438.0,209.1 L438.8,208.7 L439.6,208.9 L440.4,209.2 L441.2,209.1 L442.0,209.1 L442.8,209.1 L443.6,209.0 L444.4,209.1 L445.2,209.0 L446.0,208.9 L446.8,209.1 L447.6,209.1 L448.4,208.9 L449.2,209.2 L450.0,209.1 L450.8,209.2 L451.6,209.1 L452.4,208.9 L453.2,209.1 L454.0,209.0 L454.8,208.8 L455.6,209.1 L456.4,208.9 L457.2,209.2 L458.0,209.2 L458.8,209.1 L459.6,209.0 L460.4,209.2 L461.2,208.9 L462.0,209.1 L462.8,208.4 L463.6,209.2 L464.4,208.8 L465.2,208.8 L466.0,209.1 L466.8,209.2 L467.6,208.9 L468.4,209.0 L469.2,209.2 L470.0,209.0 L470.8,208.9 L471.6,209.0 L472.4,209.2 L473.2,209.1 L474.0,209.0 L474.8,209.0 L475.6,209.0 L476.4,209.0 L477.2,208.9 L478.0,208.7 L478.8,209.1 L479.6,209.0 L480.4,209.2 L481.2,208.9 L482.0,209.1 L482.8,209.1 L483.6,209.1 L484.4,209.0 L485.2,209.1 L486.0,209.0 L486.8,209.0 L487.6,209.1 L488.4,208.8 L489.2,209.2 L490.0,209.2 L490.8,209.1 L491.6,208.8 L492.4,208.9 L493.2,208.7 L494.0,208.9 L494.8,209.2 L495.6,208.7 L496.4,209.2 L497.2,209.1 L498.0,209.0 L498.8,208.9 L499.6,208.8 L500.4,208.7 L501.2,209.0 L502.0,209.1 L502.8,209.1 L503.6,208.8 L504.4,209.1 L505.2,209.2 L506.0,209.2 L506.8,208.9 L507.6,209.0 L508.4,209.0 L509.2,209.2 L510.0,209.1 L510.8,209.0 L511.6,209.1 L512.4,209.1 L513.2,209.1 L514.0,209.0 L514.8,209.0 L515.6,208.9 L516.4,209.0 L517.2,209.1 L518.0,209.0 L518.8,209.2 L519.6,209.0 L520.4,209.2 L521.2,208.8 L522.0,209.0 L522.8,209.1 L523.6,208.8 L524.4,209.2 L525.2,208.9 L526.0,209.0 L526.8,208.9 L527.6,209.1 L528.4,209.1 L529.2,208.9 L530.0,209.0 L530.8,209.1 L531.6,209.2 L532.4,208.9 L533.2,209.0 L534.0,209.1 L534.8,209.1 L535.6,208.9 L536.4,209.1 L537.2,209.0 L538.0,209.1 L538.8,209.0 L539.6,208.7 L540.4,209.1 L541.2,208.9 L542.0,208.9 L542.8,209.2 L543.6,209.0 L544.4,209.2 L545.2,208.9 L546.0,209.0 L546.8,209.1 L547.6,209.1 L548.4,208.9 L549.2,209.1 L550.0,208.7 L550.8,208.8 L551.6,208.9 L552.4,208.9 L553.2,209.0 L554.0,209.0 L554.8,209.1 L555.6,208.9 L556.4,208.6 L557.2,209.0 L558.0,209.0 L558.8,209.2 L559.6,208.8 L560.4,208.9 L561.2,209.1 L562.0,208.7 L562.8,208.9 L563.6,208.9 L564.4,209.1 L565.2,208.9 L566.0,209.1 L566.8,209.2 L567.6,209.0 L568.4,208.8 L569.2,208.7 L570.0,208.8 L570.8,208.9 L571.6,209.1 L572.4,208.7 L573.2,209.1 L574.0,209.1" fill="none" stroke="#3a3a3a" stroke-width="0.8" stroke-dasharray="4 1.2 2.5 2 6 1.5 1.5 1"/>
<line x1="4" y1="212.2" x2="575" y2="212.2" stroke="#000" stroke-width="1.4"/>
<line x1="5.0" y1="212" x2="5.0" y2="215.8" stroke="#000" stroke-width="1.3"/>
<text x="5.0" y="225.7" font-size="11" text-anchor="middle">2</text>
<line x1="33.4" y1="212" x2="33.4" y2="214.6" stroke="#000" stroke-width="1.2"/>
<line x1="61.8" y1="212" x2="61.8" y2="215.8" stroke="#000" stroke-width="1.3"/>
<text x="61.8" y="225.7" font-size="11" text-anchor="middle">4</text>
<line x1="90.2" y1="212" x2="90.2" y2="214.6" stroke="#000" stroke-width="1.2"/>
<line x1="118.6" y1="212" x2="118.6" y2="215.8" stroke="#000" stroke-width="1.3"/>
<text x="118.6" y="225.7" font-size="11" text-anchor="middle">6</text>
<line x1="147.0" y1="212" x2="147.0" y2="214.6" stroke="#000" stroke-width="1.2"/>
<line x1="175.4" y1="212" x2="175.4" y2="215.8" stroke="#000" stroke-width="1.3"/>
<text x="175.4" y="225.7" font-size="11" text-anchor="middle">8</text>
<line x1="203.8" y1="212" x2="203.8" y2="214.6" stroke="#000" stroke-width="1.2"/>
<line x1="232.2" y1="212" x2="232.2" y2="215.8" stroke="#000" stroke-width="1.3"/>
<text x="232.2" y="225.7" font-size="11" text-anchor="middle">10</text>
<line x1="260.6" y1="212" x2="260.6" y2="214.6" stroke="#000" stroke-width="1.2"/>
<line x1="289.0" y1="212" x2="289.0" y2="215.8" stroke="#000" stroke-width="1.3"/>
<text x="289.0" y="225.7" font-size="11" text-anchor="middle">12</text>
<line x1="317.4" y1="212" x2="317.4" y2="214.6" stroke="#000" stroke-width="1.2"/>
<line x1="345.8" y1="212" x2="345.8" y2="215.8" stroke="#000" stroke-width="1.3"/>
<text x="345.8" y="225.7" font-size="11" text-anchor="middle">14</text>
<line x1="374.2" y1="212" x2="374.2" y2="214.6" stroke="#000" stroke-width="1.2"/>
<line x1="402.6" y1="212" x2="402.6" y2="215.8" stroke="#000" stroke-width="1.3"/>
<text x="402.6" y="225.7" font-size="11" text-anchor="middle">16</text>
<line x1="431.0" y1="212" x2="431.0" y2="214.6" stroke="#000" stroke-width="1.2"/>
<line x1="459.4" y1="212" x2="459.4" y2="215.8" stroke="#000" stroke-width="1.3"/>
<text x="459.4" y="225.7" font-size="11" text-anchor="middle">18</text>
<line x1="487.8" y1="212" x2="487.8" y2="214.6" stroke="#000" stroke-width="1.2"/>
<line x1="516.2" y1="212" x2="516.2" y2="215.8" stroke="#000" stroke-width="1.3"/>
<text x="516.2" y="225.7" font-size="11" text-anchor="middle">20</text>
<line x1="544.6" y1="212" x2="544.6" y2="214.6" stroke="#000" stroke-width="1.2"/>
<line x1="573.0" y1="212" x2="573.0" y2="215.8" stroke="#000" stroke-width="1.3"/>
<text x="572.6" y="225.7" font-size="10.7" text-anchor="end">minutes</text>
<line x1="52.2" y1="240.9" x2="52.2" y2="398.3" stroke="#000" stroke-width="1.8"/>
<line x1="52.2" y1="397.6" x2="286" y2="397.6" stroke="#000" stroke-width="1.5"/>
<line x1="47.7" y1="397.6" x2="52.2" y2="397.6" stroke="#000" stroke-width="1.6"/>
<text x="45.2" y="401.2" font-size="10.7" text-anchor="end">0</text>
<line x1="49.7" y1="371.6" x2="52.2" y2="371.6" stroke="#000" stroke-width="1.6"/>
<line x1="47.7" y1="345.6" x2="52.2" y2="345.6" stroke="#000" stroke-width="1.6"/>
<text x="45.2" y="349.2" font-size="10.7" text-anchor="end">20</text>
<line x1="49.7" y1="319.6" x2="52.2" y2="319.6" stroke="#000" stroke-width="1.6"/>
<line x1="47.7" y1="293.6" x2="52.2" y2="293.6" stroke="#000" stroke-width="1.6"/>
<text x="45.2" y="297.2" font-size="10.7" text-anchor="end">40</text>
<line x1="49.7" y1="267.6" x2="52.2" y2="267.6" stroke="#000" stroke-width="1.6"/>
<line x1="47.7" y1="241.6" x2="52.2" y2="241.6" stroke="#000" stroke-width="1.6"/>
<text x="45.2" y="245.2" font-size="10.7" text-anchor="end">60</text>
<text transform="translate(14.2,320.7) rotate(-90)" font-size="11" text-anchor="middle">IS Normalized Abundance</text>
<text transform="translate(28.4,321.2) rotate(-90)" font-size="11" text-anchor="middle">75m/z at RT 7.01min</text>
<text x="19.5" y="425.5" font-size="18.5">B.</text>
<line x1="68.6" y1="397.6" x2="68.6" y2="401.8" stroke="#000" stroke-width="1.7"/>
<line x1="94" y1="397.6" x2="94" y2="401.8" stroke="#000" stroke-width="1.7"/>
<line x1="119" y1="397.6" x2="119" y2="401.8" stroke="#000" stroke-width="1.7"/>
<line x1="143.5" y1="397.6" x2="143.5" y2="401.8" stroke="#000" stroke-width="1.7"/>
<line x1="169" y1="397.6" x2="169" y2="401.8" stroke="#000" stroke-width="1.7"/>
<line x1="194" y1="397.6" x2="194" y2="401.8" stroke="#000" stroke-width="1.7"/>
<line x1="218.7" y1="397.6" x2="218.7" y2="401.8" stroke="#000" stroke-width="1.7"/>
<line x1="243.6" y1="397.6" x2="243.6" y2="401.8" stroke="#000" stroke-width="1.7"/>
<line x1="268.5" y1="397.6" x2="268.5" y2="401.8" stroke="#000" stroke-width="1.7"/>
<text transform="translate(64.3,410.2) rotate(45)" font-size="11">Blank</text>
<text transform="translate(89.7,410.2) rotate(45)" font-size="11">Room</text>
<text transform="translate(114.7,410.2) rotate(45)" font-size="11">Air</text>
<text x="143.5" y="413.2" font-size="11" text-anchor="middle">0x</text>
<text x="169" y="413.2" font-size="11" text-anchor="middle">1x</text>
<text x="194" y="413.2" font-size="11" text-anchor="middle">2x</text>
<text x="218.7" y="413.2" font-size="11" text-anchor="middle">3x</text>
<text x="243.6" y="413.2" font-size="11" text-anchor="middle">5x</text>
<text x="268.5" y="413.2" font-size="11" text-anchor="middle">10x</text>
<line x1="135.6" y1="417.0" x2="275.5" y2="417.0" stroke="#2a2a2a" stroke-width="1.4"/>
<text x="205.5" y="429.6" font-size="10.9" text-anchor="middle">Autoclaved</text>
<line x1="68.6" y1="397.0" x2="68.6" y2="397.2" stroke="#000" stroke-width="1.7"/>
<line x1="63.89999999999999" y1="397.0" x2="73.3" y2="397.0" stroke="#000" stroke-width="1.8"/>
<line x1="61.099999999999994" y1="396.8" x2="76.1" y2="396.8" stroke="#000" stroke-width="1.6"/>
<line x1="94" y1="396.8" x2="94" y2="397.1" stroke="#000" stroke-width="1.7"/>
<line x1="89.3" y1="396.8" x2="98.7" y2="396.8" stroke="#000" stroke-width="1.8"/>
<line x1="86.5" y1="396.8" x2="101.5" y2="396.8" stroke="#000" stroke-width="1.6"/>
<line x1="119" y1="396.8" x2="119" y2="397.1" stroke="#000" stroke-width="1.7"/>
<line x1="114.3" y1="396.8" x2="123.7" y2="396.8" stroke="#000" stroke-width="1.8"/>
<line x1="111.5" y1="396.8" x2="126.5" y2="396.8" stroke="#000" stroke-width="1.6"/>
<line x1="143.5" y1="396.4" x2="143.5" y2="396.8" stroke="#000" stroke-width="1.7"/>
<line x1="138.8" y1="396.4" x2="148.2" y2="396.4" stroke="#000" stroke-width="1.8"/>
<line x1="136.0" y1="396.8" x2="151.0" y2="396.8" stroke="#000" stroke-width="1.6"/>
<line x1="169" y1="393.4" x2="169" y2="395.0" stroke="#000" stroke-width="1.7"/>
<line x1="164.3" y1="393.4" x2="173.7" y2="393.4" stroke="#000" stroke-width="1.8"/>
<rect x="161.6" y="395.4" width="14.8" height="2.2" fill="#000" stroke="#000" stroke-width="1.7"/>
<line x1="194" y1="390.8" x2="194" y2="392.9" stroke="#000" stroke-width="1.7"/>
<line x1="189.3" y1="390.8" x2="198.7" y2="390.8" stroke="#000" stroke-width="1.8"/>
<rect x="186.6" y="393.3" width="14.8" height="4.3" fill="#fff" stroke="#000" stroke-width="1.7"/>
<line x1="218.7" y1="391.8" x2="218.7" y2="394.0" stroke="#000" stroke-width="1.7"/>
<line x1="214.0" y1="391.8" x2="223.39999999999998" y2="391.8" stroke="#000" stroke-width="1.8"/>
<rect x="211.3" y="394.4" width="14.8" height="3.2" fill="#ccc" stroke="#000" stroke-width="1.7"/>
<line x1="243.6" y1="365.4" x2="243.6" y2="377.3" stroke="#000" stroke-width="1.7"/>
<line x1="238.9" y1="365.4" x2="248.29999999999998" y2="365.4" stroke="#000" stroke-width="1.8"/>
<rect x="236.2" y="377.7" width="14.8" height="19.9" fill="#555" stroke="#000" stroke-width="1.7"/>
<line x1="268.5" y1="384.9" x2="268.5" y2="387.2" stroke="#000" stroke-width="1.7"/>
<line x1="263.8" y1="384.9" x2="273.2" y2="384.9" stroke="#000" stroke-width="1.8"/>
<rect x="261.1" y="387.6" width="14.8" height="10.0" fill="#000" stroke="#000" stroke-width="1.7"/>
<path d="M143.5,391.7 L143.5,383.4 L169,383.4 L169,389.5" fill="none" stroke="#000" stroke-width="1.75"/>
<text x="156.25" y="380.6" font-size="9" text-anchor="middle">*</text>
<path d="M169,379.6 L169,374.8 L194,374.8 L194,385.1" fill="none" stroke="#000" stroke-width="1.75"/>
<text x="181.5" y="372.0" font-size="9" text-anchor="middle">*</text>
<path d="M194,370.4 L194,364.5 L218.7,364.5 L218.7,387.7" fill="none" stroke="#000" stroke-width="1.75"/>
<text x="206.35" y="362.3" font-size="8.5" text-anchor="middle">ns</text>
<path d="M218.7,360.8 L218.7,356 L243.6,356 L243.6,361.5" fill="none" stroke="#000" stroke-width="1.75"/>
<text x="231.14999999999998" y="353.2" font-size="9" text-anchor="middle">*</text>
<path d="M243.6,351.7 L243.6,346 L268.5,346 L268.5,382.5" fill="none" stroke="#000" stroke-width="1.75"/>
<text x="256.05" y="343.8" font-size="8.5" text-anchor="middle">ns</text>
<path d="M135.4,326.0 L135.4,320.0 L276.3,320.0 L276.3,326.0" fill="none" stroke="#000" stroke-width="1.75"/>
<text x="205.85000000000002" y="315.8" font-size="8.7" text-anchor="middle">p&lt;0.003 for all compared to 0x</text>
<line x1="339.1" y1="240.9" x2="339.1" y2="398.3" stroke="#000" stroke-width="1.8"/>
<line x1="339.1" y1="397.6" x2="575" y2="397.6" stroke="#000" stroke-width="1.5"/>
<line x1="334.6" y1="397.6" x2="339.1" y2="397.6" stroke="#000" stroke-width="1.6"/>
<text x="332.1" y="401.2" font-size="10.7" text-anchor="end">0</text>
<line x1="336.6" y1="371.6" x2="339.1" y2="371.6" stroke="#000" stroke-width="1.6"/>
<line x1="334.6" y1="345.6" x2="339.1" y2="345.6" stroke="#000" stroke-width="1.6"/>
<text x="332.1" y="349.2" font-size="10.7" text-anchor="end">20</text>
<line x1="336.6" y1="319.6" x2="339.1" y2="319.6" stroke="#000" stroke-width="1.6"/>
<line x1="334.6" y1="293.6" x2="339.1" y2="293.6" stroke="#000" stroke-width="1.6"/>
<text x="332.1" y="297.2" font-size="10.7" text-anchor="end">40</text>
<line x1="336.6" y1="267.6" x2="339.1" y2="267.6" stroke="#000" stroke-width="1.6"/>
<line x1="334.6" y1="241.6" x2="339.1" y2="241.6" stroke="#000" stroke-width="1.6"/>
<text x="332.1" y="245.2" font-size="10.7" text-anchor="end">60</text>
<text transform="translate(301.1,320.7) rotate(-90)" font-size="11" text-anchor="middle">IS Normalized Abundance</text>
<text transform="translate(315.3,321.2) rotate(-90)" font-size="11" text-anchor="middle">147m/z at RT 8.02min</text>
<text x="306" y="425.5" font-size="18.5">C.</text>
<line x1="355.7" y1="397.6" x2="355.7" y2="401.8" stroke="#000" stroke-width="1.7"/>
<line x1="380.7" y1="397.6" x2="380.7" y2="401.8" stroke="#000" stroke-width="1.7"/>
<line x1="405.7" y1="397.6" x2="405.7" y2="401.8" stroke="#000" stroke-width="1.7"/>
<line x1="430.5" y1="397.6" x2="430.5" y2="401.8" stroke="#000" stroke-width="1.7"/>
<line x1="455.6" y1="397.6" x2="455.6" y2="401.8" stroke="#000" stroke-width="1.7"/>
<line x1="480.7" y1="397.6" x2="480.7" y2="401.8" stroke="#000" stroke-width="1.7"/>
<line x1="505.8" y1="397.6" x2="505.8" y2="401.8" stroke="#000" stroke-width="1.7"/>
<line x1="530.7" y1="397.6" x2="530.7" y2="401.8" stroke="#000" stroke-width="1.7"/>
<line x1="555.5" y1="397.6" x2="555.5" y2="401.8" stroke="#000" stroke-width="1.7"/>
<text transform="translate(351.4,410.2) rotate(45)" font-size="11">Blank</text>
<text transform="translate(376.4,410.2) rotate(45)" font-size="11">Room</text>
<text transform="translate(401.4,410.2) rotate(45)" font-size="11">Air</text>
<text x="430.5" y="413.2" font-size="11" text-anchor="middle">0x</text>
<text x="455.6" y="413.2" font-size="11" text-anchor="middle">1x</text>
<text x="480.7" y="413.2" font-size="11" text-anchor="middle">2x</text>
<text x="505.8" y="413.2" font-size="11" text-anchor="middle">3x</text>
<text x="530.7" y="413.2" font-size="11" text-anchor="middle">5x</text>
<text x="555.5" y="413.2" font-size="11" text-anchor="middle">10x</text>
<line x1="422.6" y1="417.0" x2="562.5" y2="417.0" stroke="#2a2a2a" stroke-width="1.4"/>
<text x="492.5" y="429.6" font-size="10.9" text-anchor="middle">Autoclaved</text>
<line x1="380.7" y1="397.0" x2="380.7" y2="397.2" stroke="#000" stroke-width="1.7"/>
<line x1="375.4" y1="397.0" x2="386.0" y2="397.0" stroke="#000" stroke-width="1.8"/>
<line x1="373.2" y1="396.8" x2="388.2" y2="396.8" stroke="#000" stroke-width="1.6"/>
<line x1="405.7" y1="396.8" x2="405.7" y2="397.1" stroke="#000" stroke-width="1.7"/>
<line x1="400.4" y1="396.8" x2="411.0" y2="396.8" stroke="#000" stroke-width="1.8"/>
<line x1="398.2" y1="396.8" x2="413.2" y2="396.8" stroke="#000" stroke-width="1.6"/>
<line x1="430.5" y1="396.4" x2="430.5" y2="396.8" stroke="#000" stroke-width="1.7"/>
<line x1="425.2" y1="396.4" x2="435.8" y2="396.4" stroke="#000" stroke-width="1.8"/>
<line x1="423.0" y1="396.8" x2="438.0" y2="396.8" stroke="#000" stroke-width="1.6"/>
<line x1="455.6" y1="391.4" x2="455.6" y2="394.0" stroke="#000" stroke-width="1.7"/>
<line x1="450.3" y1="391.4" x2="460.90000000000003" y2="391.4" stroke="#000" stroke-width="1.8"/>
<rect x="448.2" y="394.4" width="14.8" height="3.2" fill="#fff" stroke="#000" stroke-width="1.7"/>
<line x1="480.7" y1="378.6" x2="480.7" y2="383.3" stroke="#000" stroke-width="1.7"/>
<line x1="475.4" y1="378.6" x2="486.0" y2="378.6" stroke="#000" stroke-width="1.8"/>
<rect x="473.3" y="383.7" width="14.8" height="13.9" fill="#fff" stroke="#000" stroke-width="1.7"/>
<line x1="505.8" y1="344.0" x2="505.8" y2="357.6" stroke="#000" stroke-width="1.7"/>
<line x1="500.5" y1="344.0" x2="511.1" y2="344.0" stroke="#000" stroke-width="1.8"/>
<rect x="498.4" y="358.0" width="14.8" height="39.6" fill="#ccc" stroke="#000" stroke-width="1.7"/>
<line x1="530.7" y1="279.3" x2="530.7" y2="317.5" stroke="#000" stroke-width="1.7"/>
<line x1="525.4000000000001" y1="279.3" x2="536.0" y2="279.3" stroke="#000" stroke-width="1.8"/>
<rect x="523.3" y="317.9" width="14.8" height="79.7" fill="#999" stroke="#000" stroke-width="1.7"/>
<line x1="555.5" y1="268.9" x2="555.5" y2="292.3" stroke="#000" stroke-width="1.7"/>
<line x1="550.2" y1="268.9" x2="560.8" y2="268.9" stroke="#000" stroke-width="1.8"/>
<rect x="548.1" y="292.7" width="14.8" height="104.9" fill="#000" stroke="#000" stroke-width="1.7"/>
<path d="M430.5,391.6 L430.5,381.6 L455.6,381.6 L455.6,386.7" fill="none" stroke="#000" stroke-width="1.75"/>
<text x="443.05" y="378.8" font-size="9" text-anchor="middle">*</text>
<path d="M455.6,375.9 L455.6,366.8 L480.7,366.8 L480.7,373" fill="none" stroke="#000" stroke-width="1.75"/>
<text x="468.15" y="364.0" font-size="9" text-anchor="middle">*</text>
<path d="M480.7,362.1 L480.7,332.6 L505.8,332.6 L505.8,339.5" fill="none" stroke="#000" stroke-width="1.75"/>
<text x="493.25" y="329.8" font-size="9" text-anchor="middle">*</text>
<path d="M505.8,328.6 L505.8,268.9 L530.7,268.9 L530.7,274.6" fill="none" stroke="#000" stroke-width="1.75"/>
<text x="518.25" y="266.1" font-size="9" text-anchor="middle">*</text>
<path d="M530.7,264 L530.7,258.6 L555.5,258.6 L555.5,264" fill="none" stroke="#000" stroke-width="1.75"/>
<text x="543.1" y="255.8" font-size="9" text-anchor="middle">*</text>
<path d="M421.2,250.6 L421.2,244.4 L562.4,244.4 L562.4,250.6" fill="none" stroke="#000" stroke-width="1.75"/>
<text x="491.79999999999995" y="239.6" font-size="8.7" text-anchor="middle">p&lt;0.003 for all compared to 0x</text>
</svg></body></html>
